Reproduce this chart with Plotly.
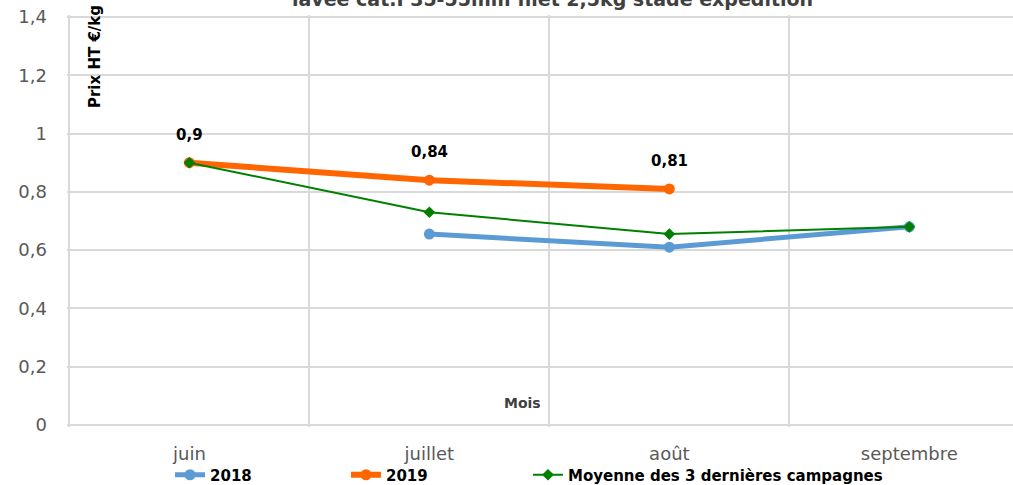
import plotly.graph_objects as go

months = ["juin", "juillet", "août", "septembre"]
v2018 = [None, 0.655, 0.61, 0.68]
v2019 = [0.90, 0.84, 0.81, None]
vmoy = [0.90, 0.73, 0.655, 0.68]
labels2019 = ["0,9", "0,84", "0,81", None]
ytick_values = [0, 0.2, 0.4, 0.6, 0.8, 1.0, 1.2, 1.4]

title_text = "lavée cat.I 35-55mm filet 2,5kg stade expédition"

fig = go.Figure()
fig.add_trace(go.Scatter(x=months, y=v2018, name="2018", mode="lines+markers",
                         line=dict(color="#5B9BD5", width=5),
                         marker=dict(symbol="circle", size=11, color="#5B9BD5"),
                         legend="legend"))
fig.add_trace(go.Scatter(x=months, y=v2019, name="2019", mode="lines+markers",
                         line=dict(color="#FF6600", width=6),
                         marker=dict(symbol="circle", size=11, color="#FF6600"),
                         legend="legend2"))
fig.add_trace(go.Scatter(x=months, y=vmoy, name="Moyenne des 3 dernières campagnes",
                         mode="lines+markers",
                         line=dict(color="#008000", width=2),
                         marker=dict(symbol="diamond", size=9, color="#008000"),
                         legend="legend3"))

for m, v, t in zip(months, v2019, labels2019):
    if v is not None and t:
        fig.add_annotation(x=m, y=v, text=t, showarrow=False, yshift=28,
                           font=dict(family="DejaVu Sans", size=15, color="#000000", weight="bold"))

fig.add_annotation(xref="paper", yref="paper", x=0.513, y=1.0388,
                   xanchor="center", yanchor="middle",
                   text=title_text, showarrow=False,
                   font=dict(family="DejaVu Sans", size=19, color="#404040", weight="bold"))
fig.add_annotation(xref="paper", yref="paper", x=0.0296, y=0.898, textangle=-90,
                   xanchor="center", yanchor="middle",
                   text="Prix HT €/kg", showarrow=False,
                   font=dict(family="DejaVu Sans", size=15, color="#000000", weight="bold"))
fig.add_annotation(xref="paper", yref="paper", x=0.482, y=0.0583,
                   xanchor="center", yanchor="middle",
                   text="Mois", showarrow=False,
                   font=dict(family="DejaVu Sans", size=14, color="#404040", weight="bold"))

legfont = dict(family="DejaVu Sans", size=15, color="#000000", weight="bold")
legbase = dict(orientation="h", xanchor="left", y=-0.1165, yanchor="middle",
               font=legfont, bgcolor="rgba(0,0,0,0)")

fig.update_layout(
    width=1013, height=485,
    margin=dict(l=67, r=0, t=15, b=58, autoexpand=False),
    paper_bgcolor="white", plot_bgcolor="white",
    separators=", ",
    showlegend=True,
    legend=dict(x=0.1089, **legbase),
    legend2=dict(x=0.2949, **legbase),
    legend3=dict(x=0.4873, **legbase),
    xaxis=dict(type="category", categoryorder="array", categoryarray=months,
               range=[-0.51, 3.432], tickson="boundaries", showgrid=True,
               gridcolor="#D9D9D9", gridwidth=2, zeroline=False, showline=False,
               ticks="", ticklabelstandoff=14, automargin=False,
               tickfont=dict(family="DejaVu Sans", size=18, color="#595959")),
    yaxis=dict(range=[-0.007, 1.407], tickvals=ytick_values,
               showgrid=True,
               gridcolor="#D9D9D9", gridwidth=2, zeroline=False, showline=False,
               ticks="", ticklabelstandoff=19, tickformat="~g", automargin=False,
               ticklabeloverflow="allow",
               tickfont=dict(family="DejaVu Sans", size=18, color="#595959")),
)

fig.write_html("out.html", config={"displayModeBar": False},
               post_script="document.body.style.margin='0px';document.body.style.overflow='hidden';")
